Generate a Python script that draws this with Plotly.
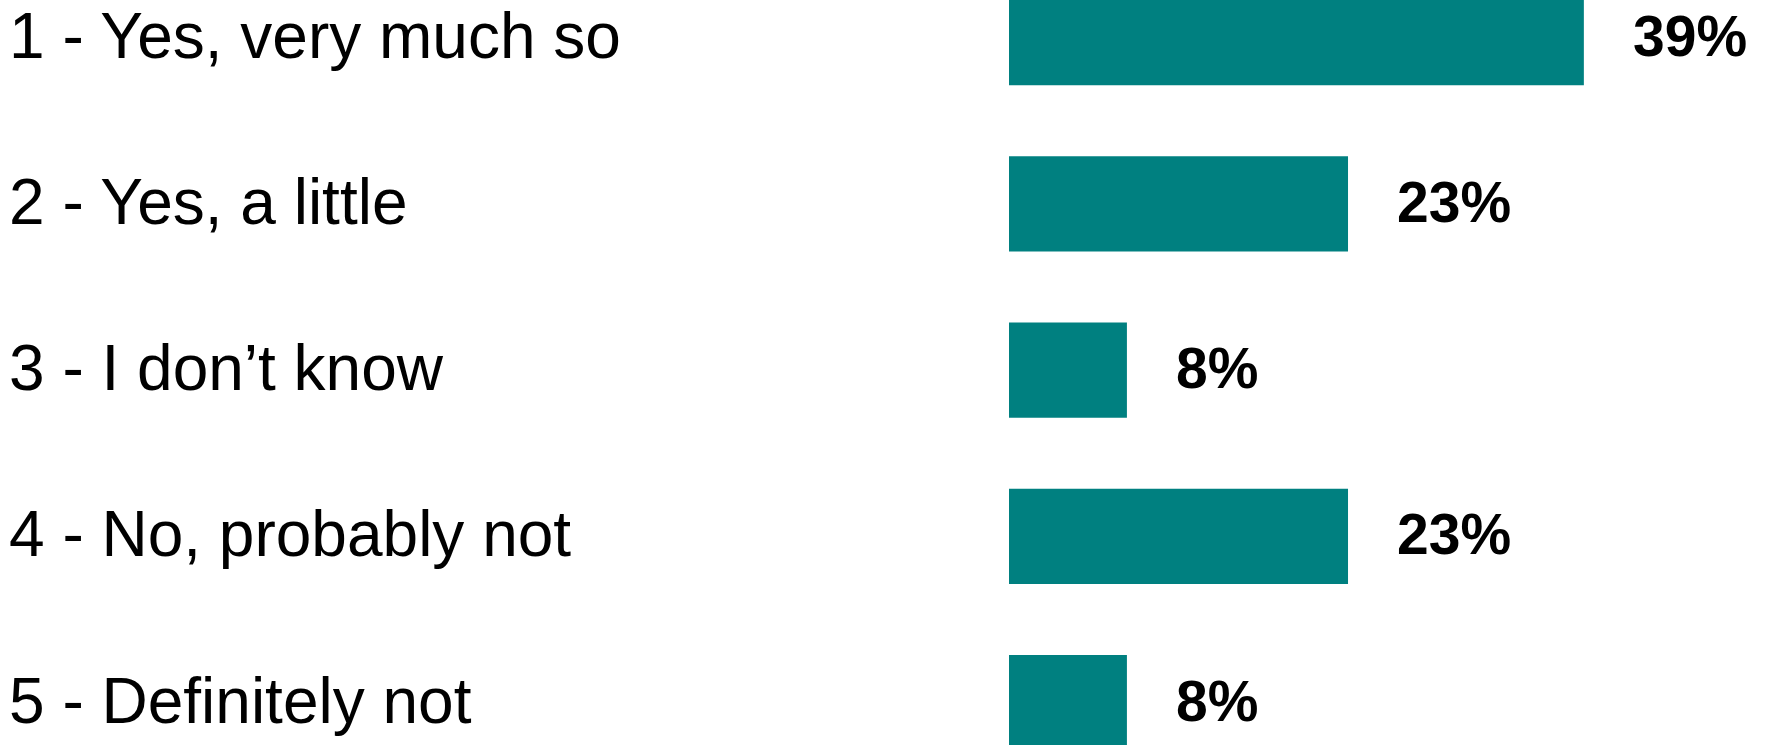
import plotly.graph_objects as go

categories = ["1 - Yes, very much so", "2 - Yes, a little", "3 - I don\u2019t know",
              "4 - No, probably not", "5 - Definitely not"]
values = [39, 23, 8, 23, 8]
value_labels = ["39%", "23%", "8%", "23%", "8%"]

W, H = 1767, 745
L = 1009
bar_color = "#008080"
font_family = "Liberation Sans, Arial, sans-serif"

fig = go.Figure(go.Bar(
    x=values, y=categories, orientation="h",
    marker=dict(color=bar_color, line=dict(width=0)),
    hoverinfo="skip",
))

plot_w = W - L
annotations = []
for c, v, t in zip(categories, values, value_labels):
    annotations.append(dict(
        x=v, y=c, xref="x", yref="y", text=t, showarrow=False,
        xanchor="left", yanchor="middle", xshift=47, yshift=2,
        font=dict(family=font_family, size=57, color="black", weight="bold"),
    ))
    annotations.append(dict(
        x=(7 - L) / plot_w, y=c, xref="paper", yref="y", text=c, showarrow=False,
        xanchor="left", yanchor="middle", yshift=2,
        font=dict(family=font_family, size=64, color="black"),
    ))

fig.update_layout(
    width=W, height=H,
    margin=dict(l=L, r=0, t=0, b=0),
    paper_bgcolor="white", plot_bgcolor="white",
    bargap=0.427,
    showlegend=False,
    xaxis=dict(range=[0, plot_w / 14.74], visible=False, fixedrange=True),
    yaxis=dict(categoryorder="array", categoryarray=categories,
               range=[4.254, -0.2255], visible=False, fixedrange=True),
    annotations=annotations,
)

fig.write_html("out.html", config={"displayModeBar": False})
